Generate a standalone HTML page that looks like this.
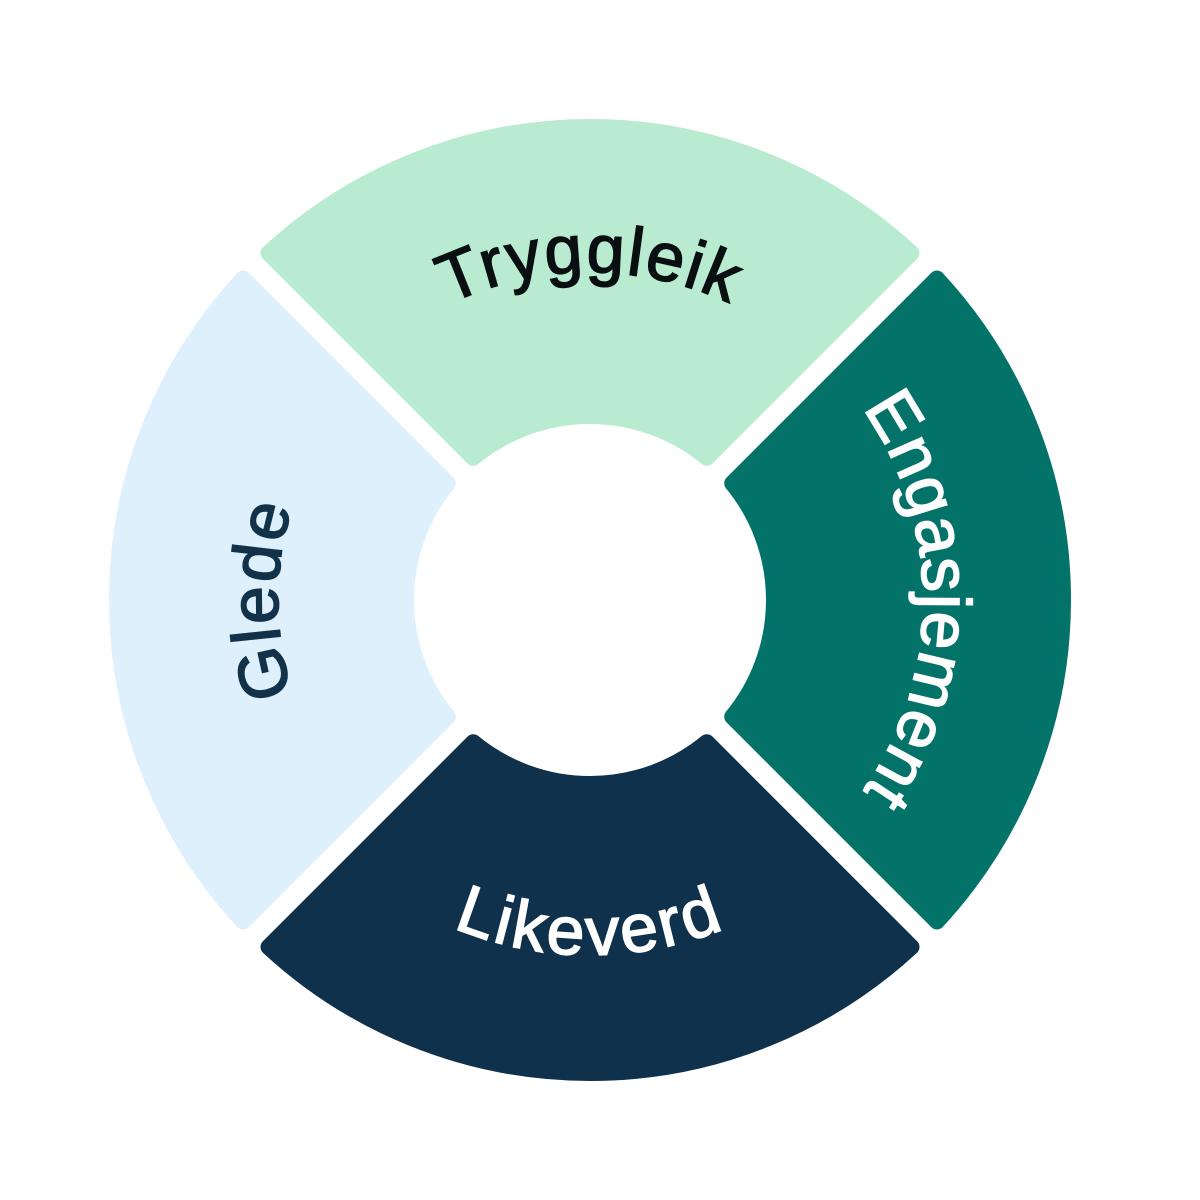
<!DOCTYPE html>
<html><head><meta charset="utf-8"><style>
html,body{margin:0;padding:0;background:#fff;width:1200px;height:1200px;overflow:hidden}
svg text{font-family:"Liberation Sans","DejaVu Sans",sans-serif;font-size:68px;stroke-width:1.6px}
</style></head><body>
<svg id="s" width="1200" height="1200" viewBox="0 0 1200 1200" xmlns="http://www.w3.org/2000/svg">
<defs>
<path id="tp" d="M 357.3 368.7 A 329 329 0 0 1 822.7 368.7"/>
<path id="rp" d="M 825.5 364.5 A 333 333 0 0 1 825.5 835.5"/>
<path id="bp" d="M 339.0 851.0 A 355 355 0 0 0 841.0 851.0"/>
<path id="lp" d="M 369.4 820.6 A 312 312 0 0 1 369.4 379.4"/>
</defs>
<g id="segs"></g>
<text fill="#0a0f12" stroke="#0a0f12" letter-spacing="2"><textPath href="#tp" startOffset="50%" text-anchor="middle">Tryggleik</textPath></text>
<text fill="#ffffff" stroke="#ffffff" letter-spacing="1"><textPath href="#rp" startOffset="50%" text-anchor="middle">Engasjement</textPath></text>
<text fill="#ffffff" stroke="#ffffff" letter-spacing="3"><textPath href="#bp" startOffset="50%" text-anchor="middle">Likeverd</textPath></text>
<text fill="#12324a" stroke="#12324a" letter-spacing="2"><textPath href="#lp" startOffset="50%" text-anchor="middle">Glede</textPath></text>
</svg>
<script>
(function(){
var cx=590,cy=600,R=473,r=184,d=18;
var segs=[[-90,"#b9ebd1"],[0,"#03736a"],[90,"#0f314b"],[180,"#dff0fd"]];
var g=document.getElementById("segs");
function pt(rad,a){a=a*Math.PI/180;return (cx+rad*Math.cos(a)).toFixed(2)+" "+(cy+rad*Math.sin(a)).toFixed(2);}
segs.forEach(function(s){
 var c=s[0],ao=Math.asin(d/R)*180/Math.PI,ai=Math.asin(d/r)*180/Math.PI;
 var p="M "+pt(R,c-45+ao)+" A "+R+" "+R+" 0 0 1 "+pt(R,c+45-ao)+" L "+pt(r,c+45-ai)+" A "+r+" "+r+" 0 0 0 "+pt(r,c-45+ai)+" Z";
 var e=document.createElementNS("http://www.w3.org/2000/svg","path");
 e.setAttribute("d",p);e.setAttribute("fill",s[1]);e.setAttribute("stroke",s[1]);
 e.setAttribute("stroke-width","16");e.setAttribute("stroke-linejoin","round");
 g.appendChild(e);
});
})();
</script>
</body></html>
